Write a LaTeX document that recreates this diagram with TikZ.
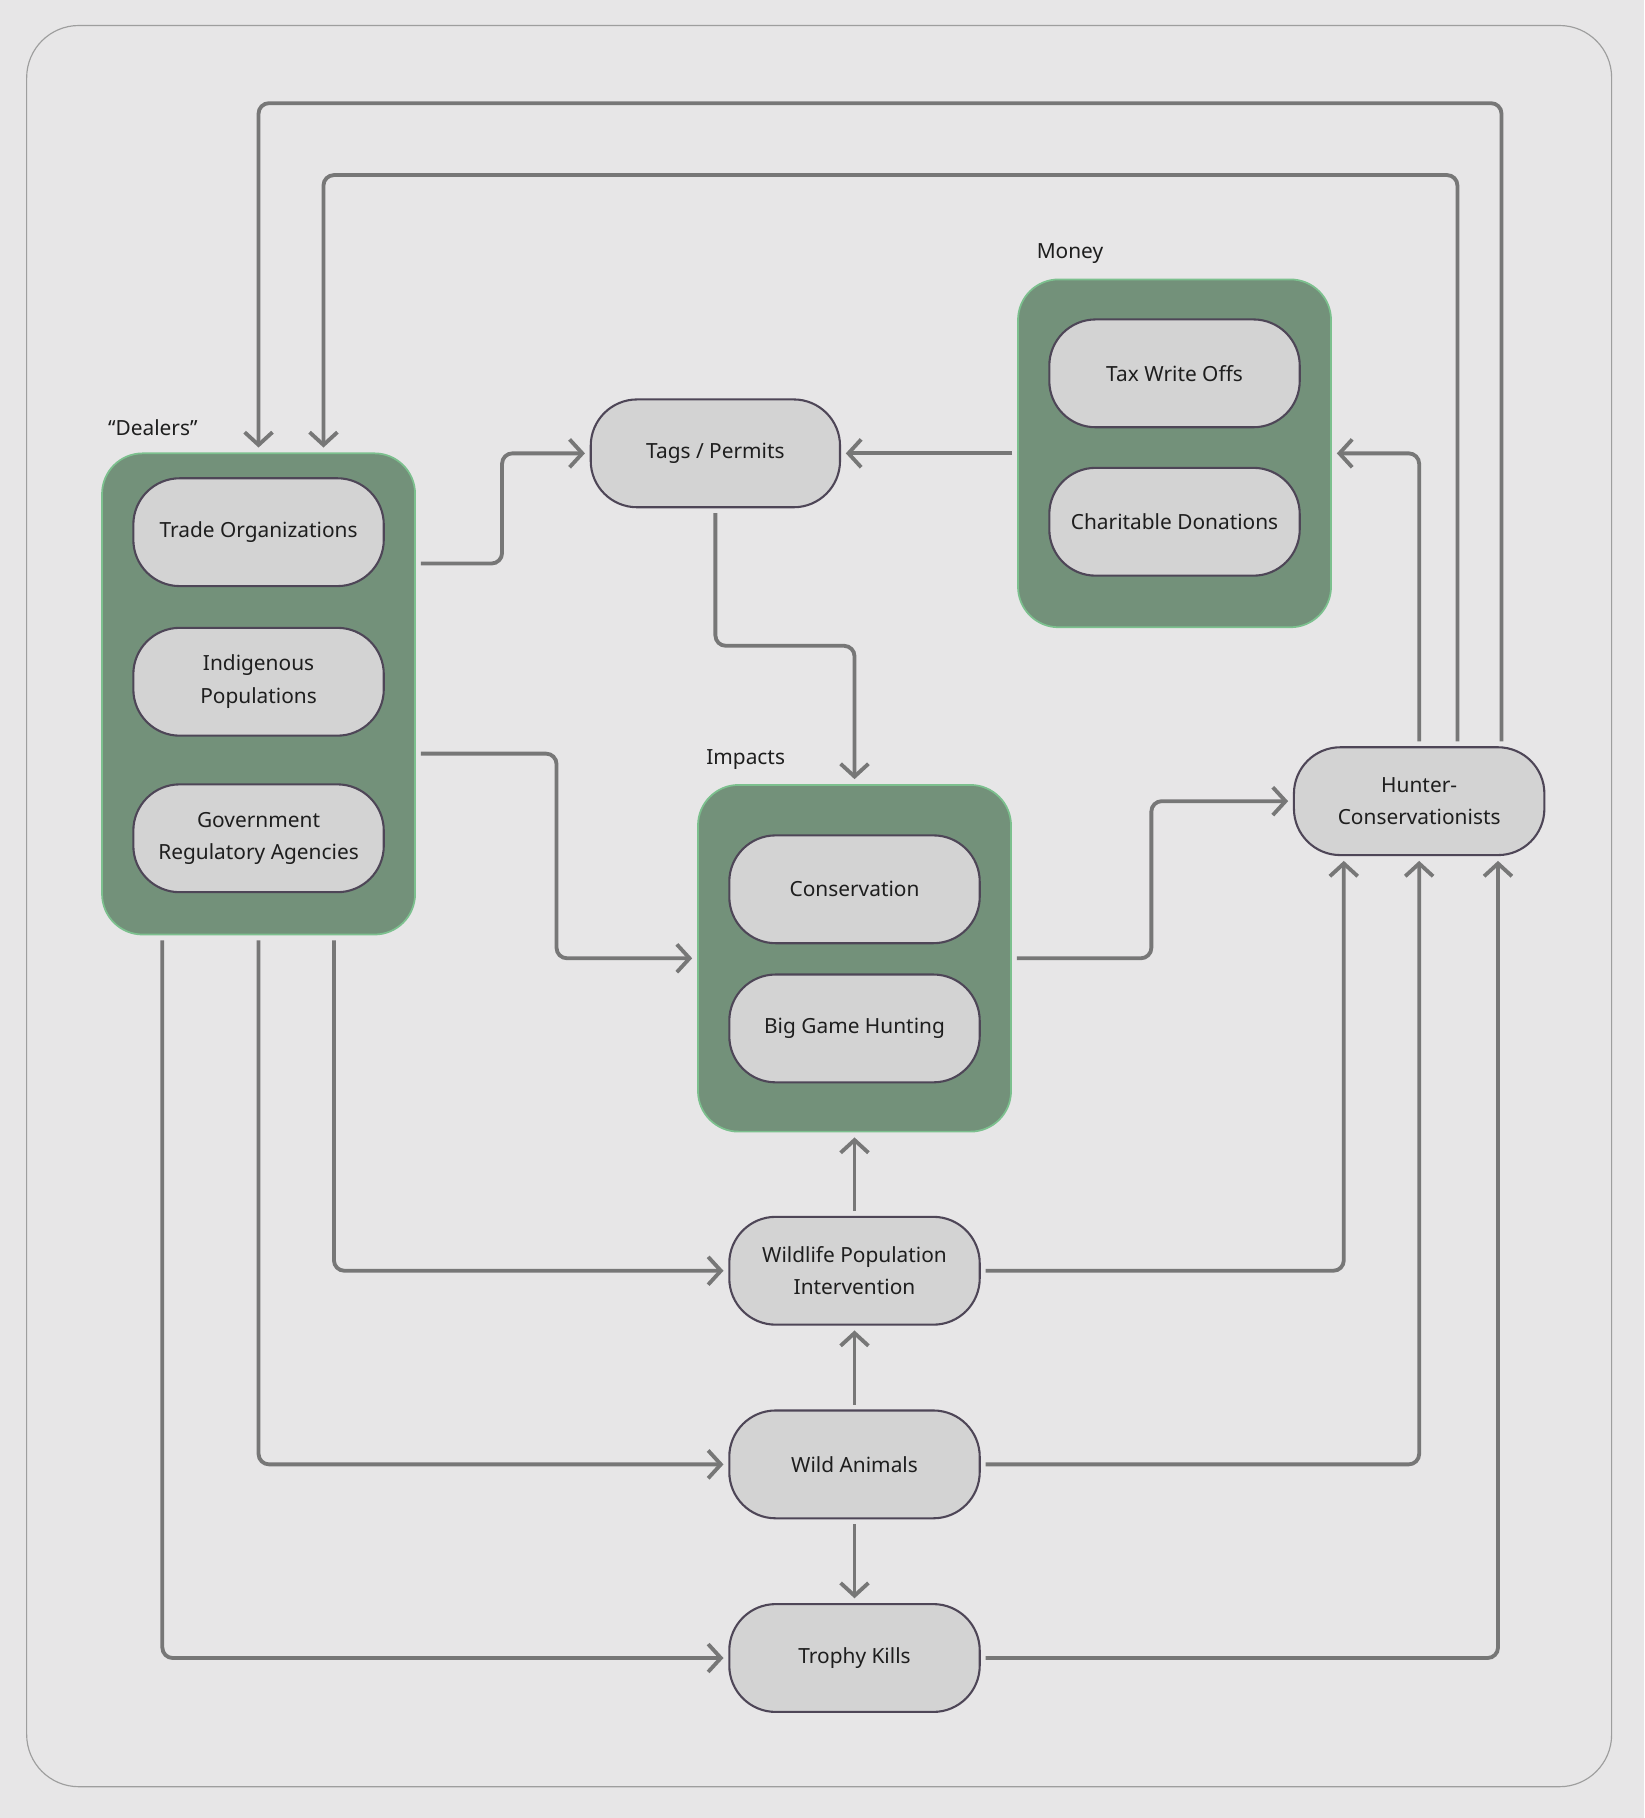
\documentclass[tikz,border=0pt]{standalone}
\usepackage{fontspec}
\setmainfont{Noto Sans}
\usetikzlibrary{arrows.meta}
\definecolor{bgc}{HTML}{E7E6E7}
\definecolor{framec}{HTML}{9E9E9E}
\definecolor{grpfill}{HTML}{73917A}
\definecolor{grpline}{HTML}{7CC08E}
\definecolor{boxfill}{HTML}{D3D3D3}
\definecolor{boxline}{HTML}{4E4657}
\definecolor{connc}{HTML}{777777}
\definecolor{txtc}{HTML}{1E1E1E}
\begin{document}
\begin{tikzpicture}[x=1pt,y=-1pt,
  every node/.style={text=txtc,font=\fontsize{18}{28}\selectfont},
  grp/.style={draw=grpline,fill=grpfill,line width=1.5pt,rounded corners=35pt,minimum width=270pt,outer sep=5pt,inner sep=0pt},
  pill/.style={draw=boxline,fill=boxfill,line width=1.8pt,rounded corners=40pt,minimum width=216pt,minimum height=93pt,align=center,outer sep=5pt,inner sep=0pt},
  grplabel/.style={anchor=west,inner sep=0pt},
  conn/.style={draw=connc,line width=3.3pt,rounded corners=9pt,-{Straight Barb[length=11pt,width=24pt]}}
]
\fill[bgc] (0,0) rectangle (1418,1568);
\useasboundingbox (0,0) rectangle (1418,1568);
\draw[framec,line width=1pt,rounded corners=45pt] (23,22) rectangle (1390,1541);

% groups
\node[grp,minimum height=415pt] (dealers) at (223,598.5) {};
\node[grp,minimum height=300pt] (money) at (1013,391) {};
\node[grp,minimum height=299pt] (impacts) at (737,826.5) {};
\node[grplabel] (dealerslbl) at (93,369) {“Dealers”};
\node[grplabel] (moneylbl) at (894,219) {Money};
\node[grplabel] (impactslbl) at (609,655) {Impacts};

% inner boxes
\node[pill] (trade) at (223,459) {Trade Organizations};
\node[pill] (indig) at (223,588) {Indigenous\\Populations};
\node[pill] (gov) at (223,723) {Government\\Regulatory Agencies};
\node[pill] (tax) at (1013,322) {Tax Write Offs};
\node[pill] (charity) at (1013,450) {Charitable Donations};
\node[pill] (cons) at (737,767) {Conservation};
\node[pill] (bgh) at (737,887) {Big Game Hunting};

% standalone boxes
\node[pill,minimum width=215pt] (tags) at (617,391) {Tags / Permits};
\node[pill] (hunter) at (1224,691) {Hunter-\\Conservationists};
\node[pill] (wpi) at (737,1096) {Wildlife Population\\Intervention};
\node[pill] (wild) at (737,1263) {Wild Animals};
\node[pill] (trophy) at (737,1430) {Trophy Kills};

% connectors
\draw[conn] (hunter.north -| 1295,0) |- (223,89) -- (dealers.north -| 223,0);
\draw[conn] (hunter.north -| 1257,0) |- (279,151) -- (dealers.north -| 279,0);
\draw[conn] (hunter.north) |- (money.east);
\draw[conn] (money.west) -- (tags.east);
\draw[conn] (dealers.east |- 0,486) -| (433,391) -- (tags.west);
\draw[conn] (tags.south) |- (737,557) -- (impacts.north);
\draw[conn] (dealers.east |- 0,650) -| (480,826.5) -- (impacts.west);
\draw[conn] (impacts.east) -| (993,691) -- (hunter.west);
\draw[conn] (wpi.north) -- (impacts.south);
\draw[conn] (wild.north) -- (wpi.south);
\draw[conn] (wild.south) -- (trophy.north);
\draw[conn] (dealers.south -| 288,0) |- (wpi.west);
\draw[conn] (dealers.south -| 223,0) |- (wild.west);
\draw[conn] (dealers.south -| 140,0) |- (trophy.west);
\draw[conn] (wpi.east) -| (hunter.south -| 1159,0);
\draw[conn] (wild.east) -| (hunter.south);
\draw[conn] (trophy.east) -| (hunter.south -| 1292,0);
\end{tikzpicture}
\end{document}
